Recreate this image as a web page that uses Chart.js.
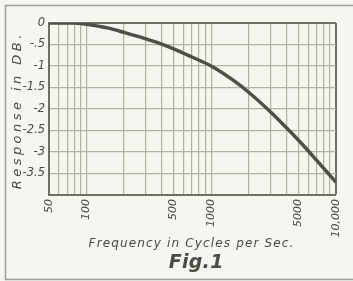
<!DOCTYPE html>
<html>
<head>
<meta charset="utf-8">
<script src="https://cdn.jsdelivr.net/npm/chart.js@4"></script>
<style>
  html, body { margin: 0; padding: 0; background: #f6f6f0; }
  #wrap { width: 353px; height: 281px; position: relative; }
</style>
</head>
<body>
<div id="wrap"><canvas id="responseChart"></canvas></div>
<script>
const frequencies = [50, 60, 70, 80, 90, 100, 150, 200, 300, 400, 500, 700, 1000, 1500, 2000, 3000, 4000, 5000, 6000, 7000, 8000, 9000, 10000];
const responseDb = [0, 0, 0, 0, -0.01, -0.03, -0.12, -0.22, -0.37, -0.49, -0.6, -0.79, -1.0, -1.33, -1.61, -2.07, -2.43, -2.72, -2.97, -3.19, -3.38, -3.55, -3.7];

const xGridLines = [50, 60, 70, 80, 90, 100, 200, 300, 400, 500, 600, 700, 800, 900, 1000, 2000, 3000, 4000, 5000, 6000, 7000, 8000, 9000, 10000];
const xTickLabels = { 50: "50", 100: "100", 500: "500", 1000: "1000", 5000: "5000", 10000: "10,000" };
// from 0 down to -4 in steps of .5
const yTickLabels = ["0", "-.5", "-1", "-1.5", "-2", "-2.5", "-3", "-3.5", ""];

const xTitle = "Frequency in Cycles per Sec.";
const yTitle = "Response in DB.";
const figTitle = "Fig.1";

const ink = "#4a4b43";
const gridLight = "#b0b3a2";
const gridDark = "#6e7064";
const font = "'DejaVu Sans', sans-serif";

// fits text to a width by spreading the letters
function spacedText(ctx, text, x, y, width) {
  ctx.letterSpacing = "0px";
  const w = ctx.measureText(text).width;
  const sp = Math.max(0, (width - w) / text.length);
  ctx.letterSpacing = sp + "px";
  ctx.fillText(text, x + sp / 2, y);
  ctx.letterSpacing = "0px";
}

const decorations = {
  id: "decorations",
  beforeDraw(chart) {
    const ctx = chart.ctx;
    ctx.save();
    ctx.strokeStyle = "#9c9d94";
    ctx.lineWidth = 1.5;
    ctx.beginPath();
    ctx.moveTo(360, 5.5);
    ctx.lineTo(5.5, 5.5);
    ctx.lineTo(5.5, 279.5);
    ctx.lineTo(360, 279.5);
    ctx.stroke();
    ctx.restore();
  },
  afterDraw(chart) {
    const ctx = chart.ctx;
    const area = chart.chartArea;
    ctx.save();
    ctx.fillStyle = ink;
    ctx.textAlign = "center";
    ctx.textBaseline = "alphabetic";

    ctx.font = "italic 12px " + font;
    spacedText(ctx, xTitle, 191, 247, 206);

    ctx.font = "italic bold 19px " + font;
    spacedText(ctx, figTitle, 196, 268, 55);

    ctx.translate(21, (area.top + area.bottom) / 2 + 3);
    ctx.rotate(-Math.PI / 2);
    ctx.font = "italic 13px " + font;
    spacedText(ctx, yTitle, 0, 0, 158);
    ctx.restore();
  }
};

const ctx = document.getElementById("responseChart").getContext("2d");
const responseChart = new Chart(ctx, {
  type: "line",
  data: {
    datasets: [
      {
        label: "Response",
        data: frequencies.map((f, i) => ({ x: f, y: responseDb[i] })),
        borderColor: "#4d5046",
        borderWidth: 3.5,
        pointRadius: 0,
        fill: false,
        cubicInterpolationMode: "monotone",
      },
    ],
  },
  options: {
    responsive: true,
    maintainAspectRatio: false,
    animation: false,
    layout: {
      padding: { left: 0, top: 23, right: 11, bottom: 0 },
    },
    plugins: {
      legend: { display: false },
      tooltip: { enabled: false },
    },
    scales: {
      x: {
        type: "logarithmic",
        min: 50,
        max: 10000,
        afterBuildTicks: (scale) => {
          scale.ticks = xGridLines.map((v) => ({ value: v }));
        },
        afterFit: (scale) => {
          scale.height = 86;
        },
        grid: {
          color: (c) => (c.tick && c.tick.value === 10000 ? gridDark : gridLight),
          lineWidth: (c) => (c.tick && c.tick.value === 10000 ? 2 : 1.2),
          drawTicks: false,
        },
        border: { color: gridDark, width: 2 },
        ticks: {
          autoSkip: false,
          minRotation: 90,
          maxRotation: 90,
          padding: 4,
          color: ink,
          font: { family: font, size: 11, style: "italic" },
          callback: (value) => xTickLabels[value] || "",
        },
      },
      y: {
        type: "linear",
        min: -4,
        max: 0,
        afterFit: (scale) => {
          scale.width = 49;
        },
        grid: {
          color: (c) => (c.tick && c.tick.value === 0 ? gridDark : gridLight),
          lineWidth: (c) => (c.tick && c.tick.value === 0 ? 2 : 1.2),
          drawTicks: false,
        },
        border: { color: gridDark, width: 2 },
        ticks: {
          stepSize: 0.5,
          padding: 4,
          color: ink,
          font: { family: font, size: 11.5, style: "italic" },
          callback: (value) => yTickLabels[Math.round(-value * 2)],
        },
      },
    },
  },
  plugins: [decorations],
});
</script>
</body>
</html>
